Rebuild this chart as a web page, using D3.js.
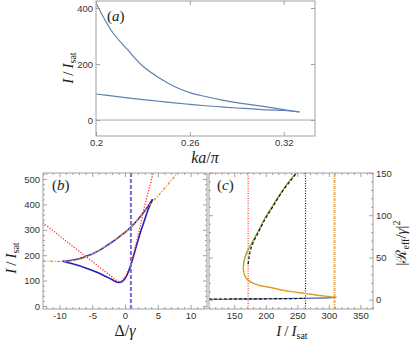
<!DOCTYPE html>
<html>
<head>
<meta charset="utf-8">
<script src="https://cdnjs.cloudflare.com/ajax/libs/d3/7.8.5/d3.min.js"></script>
<style>
  body { margin: 0; background: #fff; }
</style>
</head>
<body>
<svg id="chart" width="416" height="350"></svg>
<script>
// ---- panel (a) data: threshold intensities vs ka/pi
let kaVals = [0.2, 0.21, 0.22, 0.23, 0.24, 0.25, 0.26, 0.27, 0.28, 0.29, 0.30, 0.31, 0.32, 0.33]
let aUpper = [418, 318, 252, 192, 152, 120, 98, 84, 72, 62, 54, 46, 37, 29]
let aLower = [93, 86, 79, 73, 67, 61, 56, 51, 47, 43, 40, 36, 34, 29]
let aXTicks = [0.2, 0.26, 0.32]
let aYTicks = [0, 200, 400]

// ---- panel (b) data: I/Isat vs detuning
let bLowD = [-9.5, -8, -6, -4, -3, -2, -1.5, -1, -0.5, 0, 0.5, 0.9, 1.5, 2, 2.5, 3, 3.5, 4.2]
let bLowI = [176, 166, 150, 130, 117, 104, 97, 93, 95, 108, 133, 162, 215, 260, 302, 340, 378, 420]
let bUpD = [4.2, 3.5, 3, 2, 1, 0, -1, -2, -3, -4, -5, -6, -7, -8, -9, -9.5]
let bUpI = [420, 392, 374, 342, 313, 290, 270, 251, 234, 218, 205, 195, 186, 180, 177, 176]
let bOrangeD = [-12.5, -11, -9.5, -8, -7, -6, -5, -4, -3, -2, -1, 0, 1, 2, 3, 4, 5, 6, 7, 8, 8.5]
let bOrangeI = [177, 176, 176, 179, 185, 194, 205, 218, 234, 251, 270, 290, 313, 342, 373, 405, 433, 463, 493, 524, 540]
let bRedD = [-12.5, -10, -8, -6, -4, -2, -1.5, -1, -0.5, 0, 0.5, 1, 1.5, 2, 2.5, 2.8, 3.5, 4.3, 4.6]
let bRedI = [328, 277, 236, 196, 155, 115, 104, 97, 99, 114, 140, 175, 225, 280, 335, 373, 445, 524, 550]
let bVLine = 0.9
let bXTicks = [-10, -5, 0, 5, 10]
let bYTicks = [0, 100, 200, 300, 400, 500]

// ---- panel (c) data: |R_eff/gamma|^2 vs I/Isat
let cGreenI = [164.4, 165, 167, 170, 175, 180, 190, 199, 210, 220, 230, 240, 248.5]
let cGreenR = [38, 43, 49.8, 56, 63, 70, 84, 97, 110, 122, 133, 143, 150]
let cOrangeI = [164.4, 165, 167, 172.4, 180, 190, 209.5, 230, 262, 285, 300, 312]
let cOrangeR = [38, 33, 28, 22.9, 19.5, 16.8, 14.2, 10.8, 7.5, 5, 3.8, 2.8]
let cBlueI = [110, 150, 200, 250, 300, 312]
let cBlueR = [0.3, 0.6, 1.0, 1.5, 2.3, 2.8]
let cDashUpI = [172, 173.5, 175.5, 179, 188.5, 198, 208.5, 218.5, 229, 239.5, 248.5]
let cDashUpR = [42, 50, 58, 66, 80, 94, 107, 119, 131, 141, 150]
let cDashLoI = [110, 150, 200, 263]
let cDashLoR = [0.8, 0.9, 1.1, 1.5]
let cVLines = [172, 263, 309]
let cXTicks = [150, 200, 250, 300, 350]
let cYTicks = [0, 50, 100, 150]

let svg = d3.select('#chart')
let serif = '"Liberation Serif", "DejaVu Serif", "Times New Roman", serif'

// scales
let xA = d3.scaleLinear().domain([0.2, 0.34]).range([96, 315])
let yA = d3.scaleLinear().domain([-57, 425]).range([136, 1])
let xB = d3.scaleLinear().domain([-12.5, 12.5]).range([43, 207])
let yB = d3.scaleLinear().domain([-12, 524]).range([309, 173])
let xC = d3.scaleLinear().domain([110, 370]).range([209, 373])
let yC = d3.scaleLinear().domain([-11, 150]).range([309, 173])

function range(a, b, step) {
  return d3.range(a, b + step / 2, step)
}

// inward Mathematica-style ticks
function ticks(axis, pos, vertical, values, size, fmt) {
  let a = axis.tickValues(values).tickSize(-size).tickPadding(3)
    .tickFormat(fmt || (() => ''))
  let g = svg.append('g')
    .attr('transform', vertical ? `translate(${pos},0)` : `translate(0,${pos})`)
    .call(a)
  g.select('.domain').remove()
  g.selectAll('line').attr('stroke', '#a0a0a0')
  g.attr('font-size', 9.5).attr('font-family', '"Liberation Sans", Arial, sans-serif')
  g.selectAll('text').attr('fill', '#333')
  return g
}

function frame(x, y, spec) {
  let [xl, xr] = x.range()
  let [yb, yt] = y.range()
  let fmtX = spec.xFmt || (d => d)
  let fmtY = d => d
  ticks(d3.axisBottom(x), yb, false, spec.xMajor, 4, fmtX)
  ticks(d3.axisTop(x), yt, false, spec.xMajor, 4)
  ticks(d3.axisLeft(y), xl, true, spec.yMajor, 4, spec.yRight ? null : fmtY)
  ticks(d3.axisRight(y), xr, true, spec.yMajor, 4, spec.yRight ? fmtY : null)
  if (spec.xMinor) {
    ticks(d3.axisBottom(x), yb, false, spec.xMinor, 2)
    ticks(d3.axisTop(x), yt, false, spec.xMinor, 2)
  }
  if (spec.yMinor) {
    ticks(d3.axisLeft(y), xl, true, spec.yMinor, 2)
    ticks(d3.axisRight(y), xr, true, spec.yMinor, 2)
  }
  svg.append('rect')
    .attr('x', xl).attr('y', yt)
    .attr('width', xr - xl).attr('height', yb - yt)
    .attr('fill', 'none').attr('stroke', '#a0a0a0')
}

function clip(id, x, y) {
  let [xl, xr] = x.range()
  let [yb, yt] = y.range()
  svg.append('clipPath').attr('id', id)
    .append('rect').attr('x', xl).attr('y', yt)
    .attr('width', xr - xl).attr('height', yb - yt)
  return svg.append('g').attr('clip-path', `url(#${id})`)
}

function curve(g, xs, ys, x, y) {
  return g.append('path')
    .datum(d3.zip(xs, ys))
    .attr('fill', 'none')
    .attr('d', d3.line().x(d => x(d[0])).y(d => y(d[1])).curve(d3.curveCatmullRom))
}

function vline(g, v, x, y) {
  return g.append('line')
    .attr('x1', x(v)).attr('x2', x(v))
    .attr('y1', y.range()[0]).attr('y2', y.range()[1])
}

// text helper: parts = [[text, italic, dy, size]]
function mathText(x, y, rot, size, parts, anchor) {
  let t = svg.append('text')
    .attr('font-family', serif)
    .attr('fill', '#222')
    .attr('font-size', size)
    .attr('text-anchor', anchor || 'middle')
    .attr('transform', `translate(${x},${y})` + (rot ? ` rotate(${rot})` : ''))
  parts.forEach(p => {
    let s = t.append('tspan').text(p[0])
    if (p[1]) s.attr('font-style', 'italic')
    if (p[2]) s.attr('dy', p[2])
    if (p[3]) s.attr('font-size', p[3])
  })
  return t
}

let iOverIsat = [['I', true], ['\u2009/\u2009'], ['I', true], ['sat', false, 3, 10]]

// ================= panel (a)
let gA = clip('clipA', xA, yA)
gA.append('line')
  .attr('x1', xA.range()[0]).attr('x2', xA.range()[1])
  .attr('y1', yA(0)).attr('y2', yA(0))
  .attr('stroke', '#a8a8a8')
curve(gA, kaVals, aUpper, xA, yA).attr('stroke', '#5e81b5').attr('stroke-width', 1.2)
curve(gA, kaVals, aLower, xA, yA).attr('stroke', '#5e81b5').attr('stroke-width', 1.2)
frame(xA, yA, { xMajor: aXTicks, yMajor: aYTicks })
mathText(107, 21, 0, 15, [['('], ['a', true], [')']], 'start')
mathText(73, 68, -90, 15, iOverIsat)
mathText(205, 163, 0, 16, [['k', true], ['a', true], ['/'], ['\u03c0', true]])

// ================= panel (b)
let gB = clip('clipB', xB, yB)
curve(gB, bLowD, bLowI, xB, yB).attr('stroke', '#2222b8').attr('stroke-width', 1.6)
curve(gB, bUpD, bUpI, xB, yB).attr('stroke', '#2222b8').attr('stroke-width', 1.6)
curve(gB, bOrangeD, bOrangeI, xB, yB).attr('stroke', '#e8902a').attr('stroke-width', 1.3)
  .attr('stroke-dasharray', '3,1.5,1,1.5')
curve(gB, bRedD, bRedI, xB, yB).attr('stroke', '#ff2a2a').attr('stroke-width', 1.3)
  .attr('stroke-dasharray', '1.2,1.6')
vline(gB, bVLine, xB, yB).attr('stroke', '#7070d6').attr('stroke-width', 2)
  .attr('stroke-dasharray', '4,2')
frame(xB, yB, {
  xMajor: bXTicks, xMinor: range(-12, 12, 1).filter(d => d % 5),
  yMajor: bYTicks, yMinor: range(0, 520, 20).filter(d => d % 100)
})
mathText(52, 190, 0, 15, [['('], ['b', true], [')']], 'start')
mathText(16, 258, -90, 15, iOverIsat)
mathText(125, 336, 0, 16, [['\u0394', false], ['/'], ['\u03b3', true]])

// ================= panel (c)
let gC = clip('clipC', xC, yC)
vline(gC, cVLines[0], xC, yC).attr('stroke', '#ff2020').attr('stroke-width', 1.1)
  .attr('stroke-dasharray', '1,1.5')
vline(gC, cVLines[1], xC, yC).attr('stroke', '#111').attr('stroke-width', 1.1)
  .attr('stroke-dasharray', '1,1.5')
vline(gC, cVLines[2], xC, yC).attr('stroke', '#f2aa66').attr('stroke-width', 2)
  .attr('stroke-dasharray', '3,1,1,1')
curve(gC, cBlueI, cBlueR, xC, yC).attr('stroke', '#5e81b5').attr('stroke-width', 1.3)
curve(gC, cOrangeI, cOrangeR, xC, yC).attr('stroke', '#e19c24').attr('stroke-width', 1.4)
curve(gC, cGreenI, cGreenR, xC, yC).attr('stroke', '#8fb032').attr('stroke-width', 1.4)
curve(gC, cDashUpI, cDashUpR, xC, yC).attr('stroke', '#111').attr('stroke-width', 1.2)
  .attr('stroke-dasharray', '3,2')
curve(gC, cDashLoI, cDashLoR, xC, yC).attr('stroke', '#111').attr('stroke-width', 1.2)
  .attr('stroke-dasharray', '3,2')
frame(xC, yC, {
  xMajor: cXTicks, xMinor: range(110, 370, 10).filter(d => d % 50),
  yMajor: cYTicks, yMinor: range(-10, 150, 10).filter(d => d % 50),
  yRight: true
})
mathText(217, 190, 0, 15, [['('], ['c', true], [')']], 'start')
mathText(292, 336, 0, 15, iOverIsat)
mathText(406, 243, -90, 15, [['|'], ['\u211b', false], ['eff', false, 3, 10],
  ['/', false, -3], ['\u03b3', true], ['|'], ['2', false, -6, 10]])
</script>
</body>
</html>
